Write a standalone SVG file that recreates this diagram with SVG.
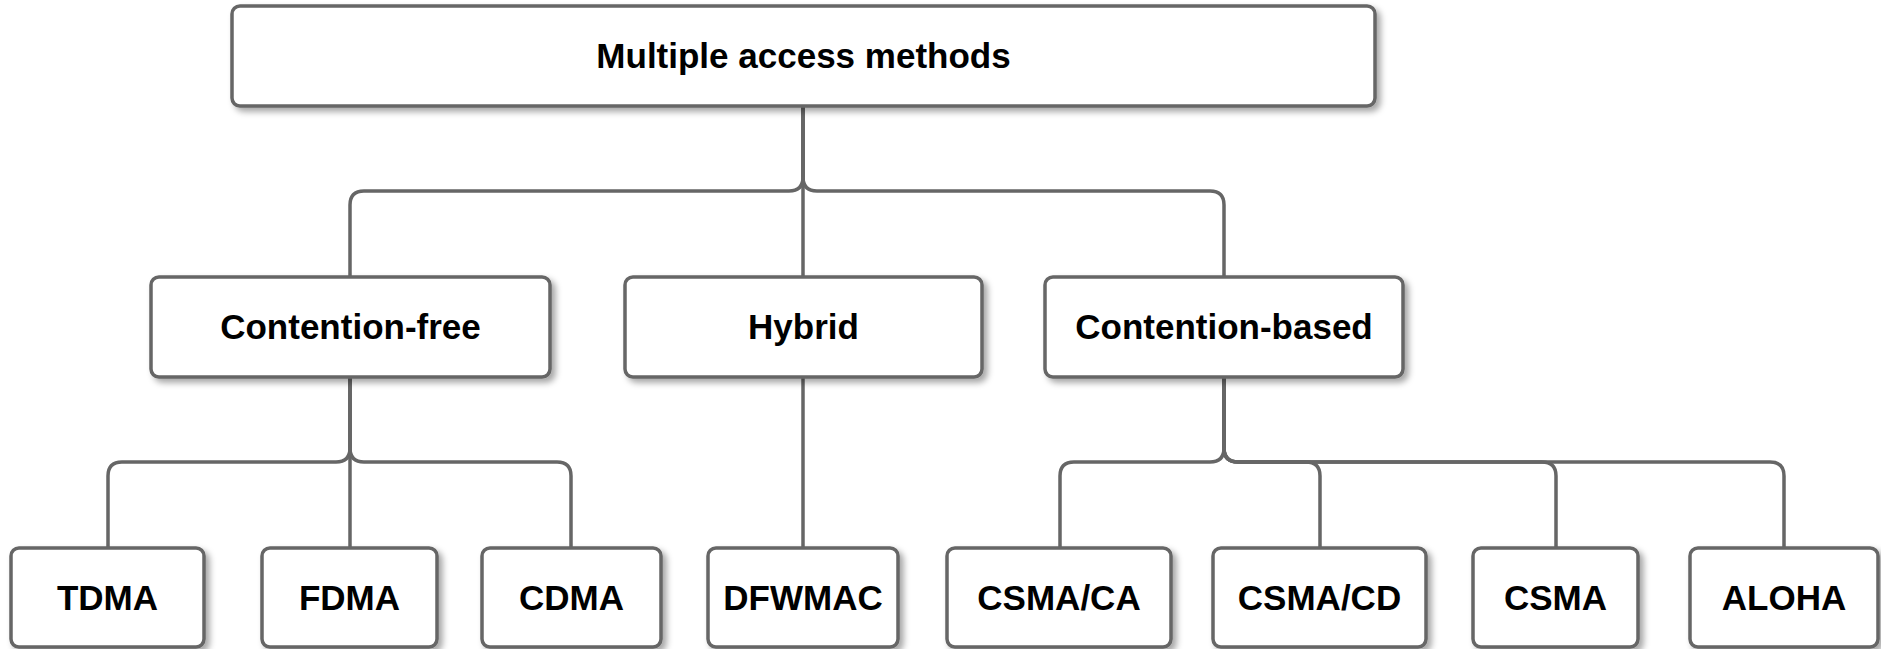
<svg xmlns="http://www.w3.org/2000/svg" width="1881" height="649" viewBox="0 0 1881 649">
  <defs>
    <filter id="sh" x="-10%" y="-10%" width="130%" height="140%">
      <feDropShadow dx="4" dy="4" stdDeviation="3" flood-color="#000" flood-opacity="0.35"/>
    </filter>
  </defs>
  <style>
    .box { fill: #ffffff; stroke: #666666; stroke-width: 3.5; filter: url(#sh); }
    .lbl { font-family: "Liberation Sans", Arial, sans-serif; font-weight: bold; font-size: 35px; fill: #000; text-anchor: middle; }
    .edge { fill: none; stroke: #666666; stroke-width: 3.5; }
  </style>
  <rect x="0" y="0" width="1881" height="649" fill="#ffffff"/>
  <g id="connectors">
    <path class="edge" d="M803,106 V177 Q803,191 789,191 H364 Q350,191 350,205 V277"/>
    <path class="edge" d="M803,106 V277"/>
    <path class="edge" d="M803,106 V177 Q803,191 817,191 H1210 Q1224,191 1224,205 V277"/>
    <path class="edge" d="M350,377 V448 Q350,462 336,462 H122 Q108,462 108,476 V548"/>
    <path class="edge" d="M350,377 V548"/>
    <path class="edge" d="M350,377 V448 Q350,462 364,462 H557 Q571,462 571,476 V548"/>
    <path class="edge" d="M803,377 V548"/>
    <path class="edge" d="M1224,377 V448 Q1224,462 1210,462 H1074 Q1060,462 1060,476 V548"/>
    <path class="edge" d="M1224,377 V448 Q1224,462 1238,462 H1306 Q1320,462 1320,476 V548"/>
    <path class="edge" d="M1224,377 V448 Q1224,462 1238,462 H1542 Q1556,462 1556,476 V548"/>
    <path class="edge" d="M1224,377 V448 Q1224,462 1238,462 H1770 Q1784,462 1784,476 V548"/>
  </g>
  <g id="n-root"><rect class="box" x="232" y="6" width="1143" height="100" rx="8"/><text class="lbl" x="803.5" y="68">Multiple access methods</text></g>
  <g id="n-cfree"><rect class="box" x="151" y="277" width="399" height="100" rx="8"/><text class="lbl" x="350.5" y="339">Contention-free</text></g>
  <g id="n-hybrid"><rect class="box" x="625" y="277" width="357" height="100" rx="8"/><text class="lbl" x="803.5" y="339">Hybrid</text></g>
  <g id="n-cbased"><rect class="box" x="1045" y="277" width="358" height="100" rx="8"/><text class="lbl" x="1224" y="339">Contention-based</text></g>
  <g id="n-tdma"><rect class="box" x="11" y="548" width="193" height="99" rx="8"/><text class="lbl" x="107.5" y="610">TDMA</text></g>
  <g id="n-fdma"><rect class="box" x="262" y="548" width="175" height="99" rx="8"/><text class="lbl" x="349.5" y="610">FDMA</text></g>
  <g id="n-cdma"><rect class="box" x="482" y="548" width="179" height="99" rx="8"/><text class="lbl" x="571.5" y="610">CDMA</text></g>
  <g id="n-dfwmac"><rect class="box" x="708" y="548" width="190" height="99" rx="8"/><text class="lbl" x="803" y="610">DFWMAC</text></g>
  <g id="n-csmaca"><rect class="box" x="947" y="548" width="224" height="99" rx="8"/><text class="lbl" x="1059" y="610">CSMA/CA</text></g>
  <g id="n-csmacd"><rect class="box" x="1213" y="548" width="213" height="99" rx="8"/><text class="lbl" x="1319.5" y="610">CSMA/CD</text></g>
  <g id="n-csma"><rect class="box" x="1473" y="548" width="165" height="99" rx="8"/><text class="lbl" x="1555.5" y="610">CSMA</text></g>
  <g id="n-aloha"><rect class="box" x="1690" y="548" width="188" height="99" rx="8"/><text class="lbl" x="1784" y="610">ALOHA</text></g>
</svg>
